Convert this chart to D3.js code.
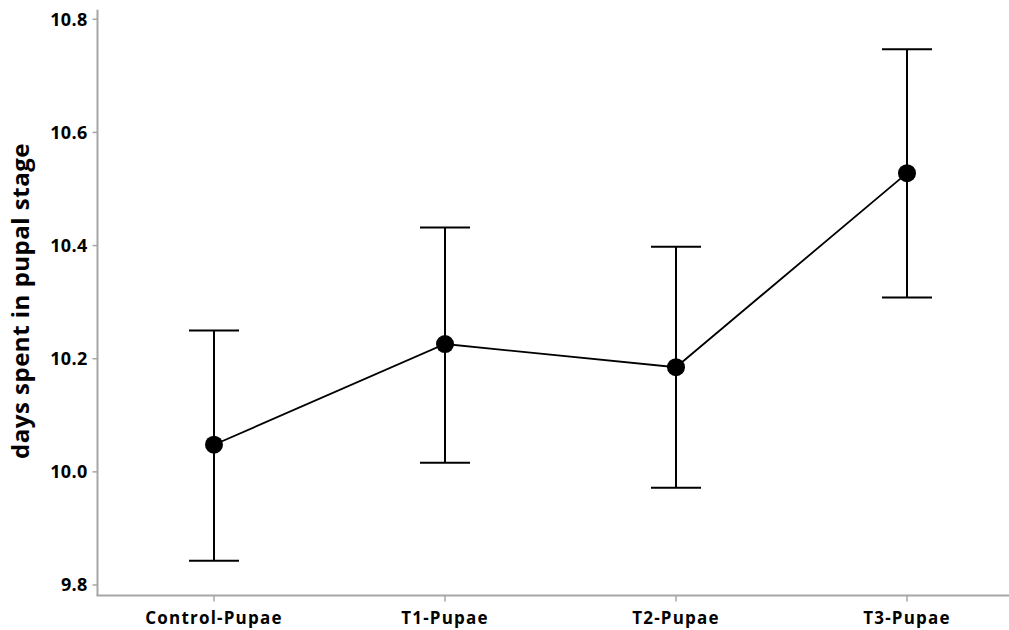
<!DOCTYPE html>
<html><head><meta charset="utf-8">
<script src="https://cdn.jsdelivr.net/npm/d3@7"></script>
<style>
html,body{margin:0;padding:0;background:#fff;}
svg{display:block;}
text{font-family:"Open Sans","Liberation Sans",sans-serif;font-weight:bold;fill:#000;}
</style></head>
<body>
<svg id="chart" width="1009" height="630"></svg>
<script>
const categories = ["Control-Pupae", "T1-Pupae", "T2-Pupae", "T3-Pupae"];
const means = [10.048, 10.226, 10.185, 10.528];
const upper = [10.250, 10.432, 10.398, 10.747];
const lower = [9.843, 10.016, 9.972, 10.308];
const yTicks = [9.8, 10.0, 10.2, 10.4, 10.6, 10.8];
const yTitle = "days spent in pupal stage";

const svg = d3.select("#chart");
const axisColor = "#a6a6a6";

const x = d3.scalePoint().domain(categories).range([98.5, 1022.5]).padding(0.5);
const y = d3.scaleLinear().domain([9.8, 10.8]).range([585, 19.3]);

const axisLeftX = 97.5, axisBottomY = 595.5;

// Axis lines
svg.append("line").attr("x1", axisLeftX).attr("x2", axisLeftX)
  .attr("y1", y(10.817)).attr("y2", axisBottomY)
  .attr("stroke", axisColor).attr("stroke-width", 2);
svg.append("line").attr("x1", axisLeftX - 1).attr("x2", 1009)
  .attr("y1", axisBottomY).attr("y2", axisBottomY)
  .attr("stroke", axisColor).attr("stroke-width", 2);

// Y ticks
const yt = svg.append("g");
yt.selectAll("line").data(yTicks).join("line")
  .attr("x1", axisLeftX - 5).attr("x2", axisLeftX)
  .attr("y1", d => y(d)).attr("y2", d => y(d))
  .attr("stroke", axisColor).attr("stroke-width", 1.5);
yt.selectAll("text").data(yTicks).join("text")
  .attr("x", axisLeftX - 10).attr("y", d => y(d))
  .attr("dy", "0.36em").attr("text-anchor", "end")
  .style("font-size", "18px").style("letter-spacing", "0.3px")
  .text(d => d3.format(".1f")(d));

// X ticks
const xt = svg.append("g");
xt.selectAll("line").data(categories).join("line")
  .attr("x1", d => x(d)).attr("x2", d => x(d))
  .attr("y1", axisBottomY).attr("y2", axisBottomY + 6)
  .attr("stroke", axisColor).attr("stroke-width", 1.5);
xt.selectAll("text").data(categories).join("text")
  .attr("x", d => x(d)).attr("y", 618)
  .attr("dy", "0.36em")
  .attr("text-anchor", "middle")
  .style("font-size", "17px").style("letter-spacing", "1.2px")
  .text(d => d);

// Y title
svg.append("text")
  .attr("transform", `translate(29, 301) rotate(-90)`)
  .attr("text-anchor", "middle")
  .style("font-size", "24px").style("letter-spacing", "0.5px")
  .text(yTitle);

// Error bars
const data = categories.map((c, i) => ({c, m: means[i], hi: upper[i], lo: lower[i]}));
const eb = svg.append("g").attr("stroke", "#000").attr("stroke-width", 2);
eb.selectAll("line.v").data(data).join("line").attr("class", "v")
  .attr("x1", d => x(d.c)).attr("x2", d => x(d.c))
  .attr("y1", d => y(d.hi)).attr("y2", d => y(d.lo));
eb.selectAll("line.t").data(data).join("line").attr("class", "t")
  .attr("x1", d => x(d.c) - 25).attr("x2", d => x(d.c) + 25)
  .attr("y1", d => y(d.hi)).attr("y2", d => y(d.hi));
eb.selectAll("line.b").data(data).join("line").attr("class", "b")
  .attr("x1", d => x(d.c) - 25).attr("x2", d => x(d.c) + 25)
  .attr("y1", d => y(d.lo)).attr("y2", d => y(d.lo));

// Line
svg.append("path").datum(data)
  .attr("d", d3.line().x(d => x(d.c)).y(d => y(d.m)))
  .attr("fill", "none").attr("stroke", "#000").attr("stroke-width", 1.8);

// Points
svg.append("g").selectAll("circle").data(data).join("circle")
  .attr("cx", d => x(d.c)).attr("cy", d => y(d.m)).attr("r", 9)
  .attr("fill", "#000");
</script>
</body></html>
